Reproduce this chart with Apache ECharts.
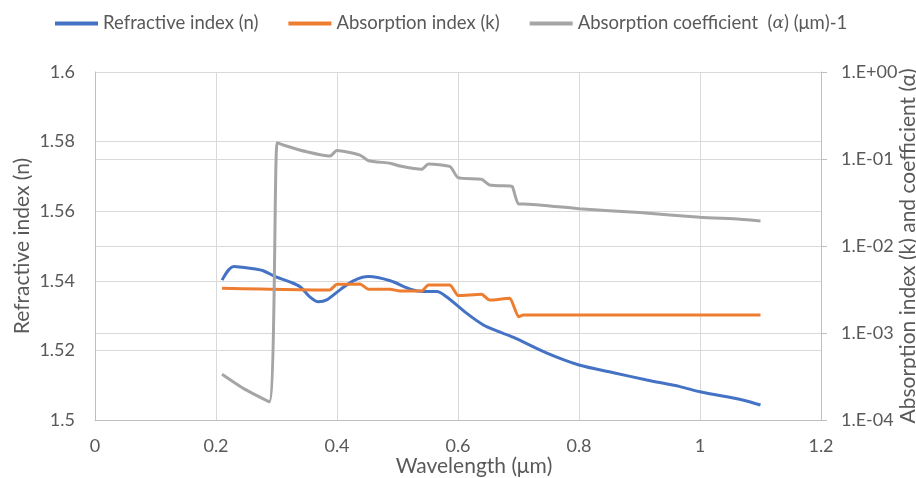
<!DOCTYPE html>
<html>
<head>
<meta charset="utf-8">
<title>Optical constants</title>
<script src="https://cdn.jsdelivr.net/npm/echarts@6/dist/echarts.min.js"></script>
<style>
    html, body { margin: 0; padding: 0; background: #fff; }
    #chart { width: 916px; height: 478px; }
</style>
</head>
<body>
<div id="chart"></div>
<script>
// 折射率 n（左轴）
var nWave = [0.21, 0.229, 0.256, 0.278, 0.298, 0.322, 0.339, 0.355, 0.369, 0.383, 0.405, 0.427, 0.452, 0.488, 0.521, 0.543, 0.565, 0.581, 0.614, 0.642, 0.664, 0.691, 0.747, 0.80, 0.857, 0.912, 0.967, 1.0, 1.072, 1.10];
var nValues = [1.5402, 1.5441, 1.5436, 1.5429, 1.5412, 1.5397, 1.5383, 1.5354, 1.5340, 1.5345, 1.5374, 1.5400, 1.5412, 1.5400, 1.5376, 1.5369, 1.5369, 1.5354, 1.5307, 1.5273, 1.5256, 1.5238, 1.5192, 1.5158, 1.5136, 1.5115, 1.5096, 1.5081, 1.5057, 1.5043];

// 消光系数 k（右轴，对数）
var kWave = [0.21, 0.388, 0.40, 0.438, 0.452, 0.488, 0.504, 0.54, 0.551, 0.587, 0.60, 0.639, 0.652, 0.686, 0.70, 0.708, 1.10];
var kValues = [3.27e-3, 3.12e-3, 3.63e-3, 3.66e-3, 3.18e-3, 3.18e-3, 3.04e-3, 3.04e-3, 3.56e-3, 3.56e-3, 2.69e-3, 2.79e-3, 2.39e-3, 2.51e-3, 1.54e-3, 1.61e-3, 1.61e-3];

// 吸收系数 alpha（右轴，对数）
var aWave = [0.21, 0.245, 0.288, 0.301, 0.311, 0.35, 0.388, 0.40, 0.438, 0.452, 0.488, 0.504, 0.54, 0.551, 0.587, 0.60, 0.639, 0.652, 0.686, 0.69, 0.70, 0.708, 0.80, 0.90, 1.0, 1.066, 1.10];
var aValues = [3.35e-4, 2.31e-4, 1.62e-4, 0.154, 0.145, 0.121, 0.108, 0.125, 0.111, 0.0956, 0.0893, 0.0831, 0.0762, 0.0877, 0.0816, 0.0610, 0.0584, 0.0502, 0.0489, 0.0480, 0.0304, 0.0304, 0.0268, 0.0242, 0.0214, 0.0203, 0.0194];

var seriesNames = ['Refractive index (n)', 'Absorption index (k)', 'Absorption coefficient  (α) (μm)-1'];

function pairs(xs, ys) {
    var out = [];
    for (var i = 0; i < xs.length; i++) {
        out.push([xs[i], ys[i]]);
    }
    return out;
}

var font = 'Lato';
var textColor = '#595959';
var gridColor = '#d9d9d9';
var axisColor = '#bfbfbf';

var chart = echarts.init(document.getElementById('chart'));
var option = {
    animation: false,
    textStyle: { fontFamily: font },
    legend: {
        top: 9,
        left: 50,
        icon: 'rect',
        itemWidth: 43,
        itemHeight: 4,
        itemGap: 30,
        textStyle: {
            fontFamily: font, fontSize: 18.5, color: textColor,
            rich: {
                i: { fontFamily: 'DejaVu Serif', fontStyle: 'italic', fontSize: 17, color: textColor }
            }
        },
        formatter: function (name) {
            // alpha 用斜体
            return name.replace('α', '{i|α}');
        },
        data: seriesNames
    },
    // 固定绘图区，不让标签撑缩
    grid: { left: 95, right: 95, top: 72, bottom: 58, containLabel: false, outerBoundsMode: 'none' },
    xAxis: {
        type: 'value',
        min: 0,
        max: 1.2,
        interval: 0.2,
        name: 'Wavelength (μm)',
        nameLocation: 'middle',
        nameGap: 36,
        nameMoveOverlap: false,
        nameTextStyle: { fontFamily: font, fontSize: 21, color: textColor, padding: [0, 0, 0, 32] },
        axisLine: { show: true, lineStyle: { color: axisColor, width: 1 } },
        axisTick: { show: false },
        axisLabel: { fontFamily: font, fontSize: 18, color: textColor, margin: 17 },
        splitLine: { show: true, lineStyle: { color: gridColor, width: 1 } }
    },
    yAxis: [{
        type: 'value',
        min: 1.5,
        max: 1.6,
        interval: 0.02,
        name: 'Refractive index (n)',
        nameLocation: 'middle',
        nameGap: 62,
        nameMoveOverlap: false,
        nameTextStyle: { fontFamily: font, fontSize: 21, color: textColor },
        axisLine: { show: true, lineStyle: { color: axisColor, width: 1 } },
        axisTick: { show: false },
        axisLabel: { fontFamily: font, fontSize: 18, color: textColor, margin: 20 },
        splitLine: { show: true, lineStyle: { color: gridColor, width: 1 } }
    }, {
        type: 'log',
        logBase: 10,
        min: 0.0001,
        max: 1,
        splitNumber: 4,
        position: 'right',
        name: 'Absorption index (k) and coefficient (α)',
        nameLocation: 'middle',
        nameGap: 77,
        nameMoveOverlap: false,
        nameTextStyle: { fontFamily: font, fontSize: 21, color: textColor },
        axisLine: { show: true, lineStyle: { color: axisColor, width: 1 } },
        axisTick: { show: true, inside: false, length: 6, lineStyle: { color: axisColor } },
        axisLabel: {
            fontFamily: font, fontSize: 18, color: textColor, margin: 20,
            formatter: function (v) {
                var e = Math.round(Math.log10(v));
                var s = e < 0 ? '-' : '+';
                var a = Math.abs(e);
                return '1.E' + s + (a < 10 ? '0' + a : a);
            }
        },
        splitLine: { show: true, lineStyle: { color: gridColor, width: 1 } }
    }],
    series: [{
        name: seriesNames[0],
        type: 'line',
        yAxisIndex: 0,
        data: pairs(nWave, nValues),
        showSymbol: false,
        symbol: 'none',
        smooth: 0.3,
        lineStyle: { color: '#4472C4', width: 3 },
        itemStyle: { color: '#4472C4' }
    }, {
        name: seriesNames[1],
        type: 'line',
        yAxisIndex: 1,
        data: pairs(kWave, kValues),
        showSymbol: false,
        symbol: 'none',
        smooth: 0.2,
        smoothMonotone: 'x',
        lineStyle: { color: '#ED7D31', width: 3 },
        itemStyle: { color: '#ED7D31' }
    }, {
        name: seriesNames[2],
        type: 'line',
        yAxisIndex: 1,
        data: pairs(aWave, aValues),
        showSymbol: false,
        symbol: 'none',
        smooth: 0.2,
        lineStyle: { color: '#A5A5A5', width: 3 },
        itemStyle: { color: '#A5A5A5' }
    }]
};
chart.setOption(option, true);
</script>
</body>
</html>
